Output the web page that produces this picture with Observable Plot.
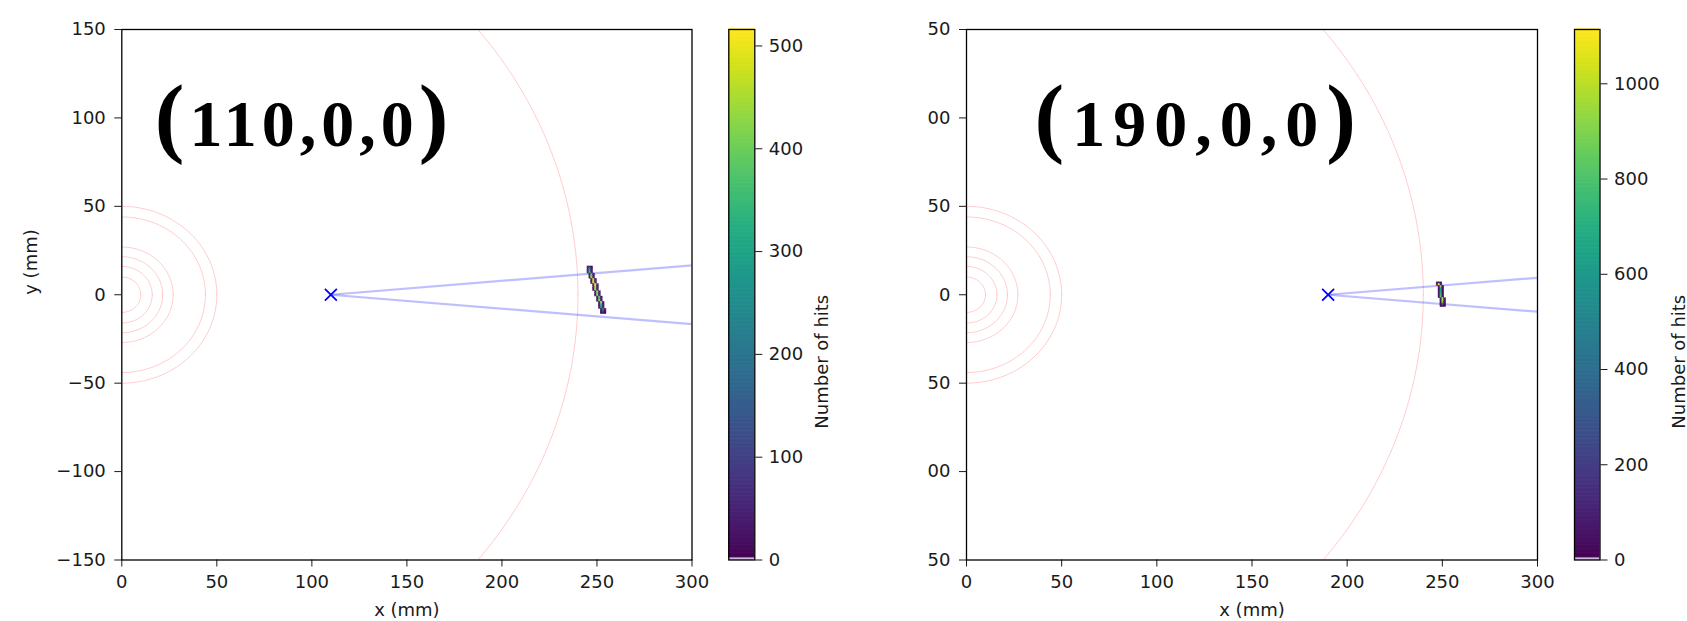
<!DOCTYPE html>
<html>
<head>
<meta charset="utf-8">
<script src="https://cdn.jsdelivr.net/npm/d3@7"></script>
<script src="https://cdn.jsdelivr.net/npm/@observablehq/plot@0.6"></script>
<style>
html, body { margin: 0; padding: 0; background: #fff; }
#chart { position: relative; width: 1687px; height: 621px; overflow: hidden; }
#chart svg { position: absolute; left: 0; top: 0; }
</style>
</head>
<body>
<div id="chart"></div>
<script>
// ---------------- data ----------------
const xTicks = [0, 50, 100, 150, 200, 250, 300];
const yTicks = [-150, -100, -50, 0, 50, 100, 150];
// right panel tick labels as visible in the (cropped) reference, in yTicks order
const yTickLabelsB = ["50", "00", "50", "0", "50", "00", "50"];
const xLabel = "x (mm)";
const yLabel = "y (mm)";
const cbLabel = "Number of hits";

// detector rings centred on the origin (mm)
const ringRadii = [10, 16, 21.5, 27, 44, 50];
const outerRadius = [240];

// panel A : source at (110,0,0)
const titleA = "(110,0,0)";
const sourceA = [110, 0];
const coneEndsA = [[300, 16.6], [300, -16.6]];
const colorMaxA = 516;
const cbTicksA = [0, 100, 200, 300, 400, 500];
// hit rows: [y bin (mm), first x bin (mm), counts for consecutive 1 mm x bins]
const hitRowsA = [
  [15, 245, [30, 60, 15]],
  [14, 245, [40, 230, 25]],
  [13, 245, [35, 320, 40]],
  [12, 245, [45, 380, 30]],
  [11, 246, [30, 350, 55]],
  [10, 246, [40, 410, 35]],
  [9, 246, [35, 430, 45]],
  [8, 247, [50, 450, 30]],
  [7, 247, [35, 470, 40]],
  [6, 247, [45, 500, 35]],
  [5, 248, [30, 516, 50]],
  [4, 248, [55, 460, 30]],
  [3, 248, [35, 440, 45]],
  [2, 248, [40, 455, 30]],
  [1, 249, [30, 420, 50]],
  [0, 249, [45, 400, 35]],
  [-1, 249, [35, 430, 40]],
  [-2, 250, [50, 380, 30]],
  [-3, 250, [30, 350, 45]],
  [-4, 250, [40, 410, 35]],
  [-5, 251, [35, 460, 40]],
  [-6, 251, [45, 370, 30]],
  [-7, 251, [30, 320, 40]],
  [-8, 251, [40, 270, 35]],
  [-9, 252, [35, 210, 30]],
  [-10, 252, [25, 130, 20]],
  [-11, 252, [20, 50, 10]]
];

// panel B : source at (190,0,0)
const titleB = "(190,0,0)";
const sourceB = [190, 0];
const coneEndsB = [[300, 9.6], [300, -9.6]];
const colorMaxB = 1114;
const cbTicksB = [0, 200, 400, 600, 800, 1000];
const hitRowsB = [
  [6, 247, [40, 90, 30]],
  [5, 247, [60, 1114, 40]],
  [4, 248, [50, 920, 60]],
  [3, 248, [45, 700, 50]],
  [2, 248, [55, 600, 40]],
  [1, 248, [40, 620, 50]],
  [0, 248, [50, 700, 45]],
  [-1, 248, [45, 760, 55]],
  [-2, 248, [60, 830, 40]],
  [-3, 249, [40, 960, 50]],
  [-4, 249, [50, 1010, 45]],
  [-5, 249, [45, 850, 35]],
  [-6, 249, [35, 480, 30]],
  [-7, 249, [20, 80, 15]]
];

// ---------------- layout ----------------
const W = 1687, H = 621;
const TOP = 29, BOTTOM = 61.5;
const baseStyle = { background: "none", overflow: "visible", fontFamily: "DejaVu Sans", fontSize: "18px", color: "#1a1a1a" };

function cellsFrom(rows) {
  return rows.flatMap(([y, x0, counts]) => counts.map((c, i) => ({ x: x0 + i, y, c }))).filter(d => d.c > 0);
}

function circlePoints() {
  const angles = d3.range(0, 361, 1);
  return [...ringRadii, ...outerRadius].flatMap(r =>
    angles.map(a => ({ r, x: r * Math.cos(a * Math.PI / 180), y: r * Math.sin(a * Math.PI / 180) })));
}

function styleTitle(svg, title, spacing) {
  // mimic the old-style figures: parentheses large, digits and commas smaller
  svg.querySelectorAll("text").forEach(t => {
    if (t.textContent !== title) return;
    t.textContent = "";
    t.setAttribute("letter-spacing", spacing);
    for (const ch of title) {
      const ts = document.createElementNS("http://www.w3.org/2000/svg", "tspan");
      if (ch === "(" || ch === ")") ts.setAttribute("font-size", 89);
      ts.textContent = ch;
      t.appendChild(ts);
    }
  });
}

function panel({ left, right, title, titleDx, titleSpacing, source, coneEnds, rows, colorMax, tickFormat, showYLabel }) {
  const links = coneEnds.map(e => ({ x1: source[0], y1: source[1], x2: e[0], y2: e[1] }));
  const marks = [
    Plot.line(circlePoints(), { x: "x", y: "y", z: "r", stroke: "#ff0000", strokeOpacity: 0.2, strokeWidth: 1, clip: true }),
    Plot.link(links, { x1: "x1", y1: "y1", x2: "x2", y2: "y2", stroke: "#0000ff", strokeOpacity: 0.25, strokeWidth: 2.2, clip: true }),
    Plot.rect(cellsFrom(rows), { x1: "x", x2: d => d.x + 1, y1: "y", y2: d => d.y + 1, fill: "c", stroke: "c", strokeWidth: 0.4, clip: true }),
    Plot.dot([source], { x: d => d[0], y: d => d[1], symbol: "times", stroke: "#0000ff", r: 5.5, strokeWidth: 1.8 }),
    Plot.frame({ stroke: "#000", strokeWidth: 1.3 }),
    Plot.text([title], { frameAnchor: "top-left", dx: titleDx, dy: 116, lineAnchor: "bottom", textAnchor: "start",
      fontFamily: "Liberation Serif", fontWeight: "bold", fontSize: 66, fill: "#000" }),
    Plot.text([xLabel], { frameAnchor: "bottom", dy: 56, lineAnchor: "bottom", fill: "#1a1a1a" })
  ];
  if (showYLabel) {
    marks.push(Plot.text([yLabel], { frameAnchor: "left", dx: -91, rotate: -90, lineAnchor: "middle", fill: "#1a1a1a" }));
  }
  const svg = Plot.plot({
    width: W, height: H,
    marginLeft: left, marginRight: W - right, marginTop: TOP, marginBottom: BOTTOM,
    style: baseStyle,
    x: { domain: [0, 300], ticks: xTicks, tickSize: 7, tickPadding: 8, label: null },
    y: { domain: [-150, 150], ticks: yTicks, tickSize: 7, tickPadding: 9, label: null, tickFormat },
    color: { type: "linear", scheme: "viridis", domain: [0, colorMax] },
    marks
  });
  styleTitle(svg, title, titleSpacing);
  return svg;
}

function colorbar({ left, right, colorMax, ticks, labelDx }) {
  const n = 400, step = colorMax / n;
  const stops = d3.range(n).map(i => i * step);
  return Plot.plot({
    width: W, height: H,
    marginLeft: left, marginRight: W - right, marginTop: TOP, marginBottom: BOTTOM,
    style: baseStyle,
    x: { domain: [0, 1], axis: null },
    y: { domain: [0, colorMax], ticks, tickFormat: "d", tickSize: 7, tickPadding: 7, label: null, axis: "right" },
    color: { type: "linear", scheme: "viridis", domain: [0, colorMax] },
    marks: [
      Plot.rect(stops, { x1: () => 0, x2: () => 1, y1: d => d, y2: d => d + step * 1.5, fill: d => d + step / 2 }),
      Plot.rect([0], { x1: () => 0, x2: () => 1, y1: () => 0, y2: () => colorMax * 0.004, fill: "#cbbfdb" }),
      Plot.frame({ stroke: "#000", strokeWidth: 1.3 }),
      Plot.text([cbLabel], { frameAnchor: "right", dx: labelDx, rotate: -90, lineAnchor: "middle", fill: "#1a1a1a" })
    ]
  });
}

const yFmtB = d => yTickLabelsB[yTicks.indexOf(d)];

const chart = document.getElementById("chart");
chart.append(
  panel({ left: 121.3, right: 691.5, title: titleA, titleDx: 33, titleSpacing: 5, source: sourceA, coneEnds: coneEndsA,
          rows: hitRowsA, colorMax: colorMaxA, tickFormat: undefined, showYLabel: true }),
  colorbar({ left: 728.3, right: 754.3, colorMax: colorMaxA, ticks: cbTicksA, labelDx: 67 }),
  panel({ left: 966, right: 1537, title: titleB, titleDx: 68, titleSpacing: 8, source: sourceB, coneEnds: coneEndsB,
          rows: hitRowsB, colorMax: colorMaxB, tickFormat: yFmtB, showYLabel: false }),
  colorbar({ left: 1574, right: 1599.5, colorMax: colorMaxB, ticks: cbTicksB, labelDx: 79 })
);
</script>
</body>
</html>
